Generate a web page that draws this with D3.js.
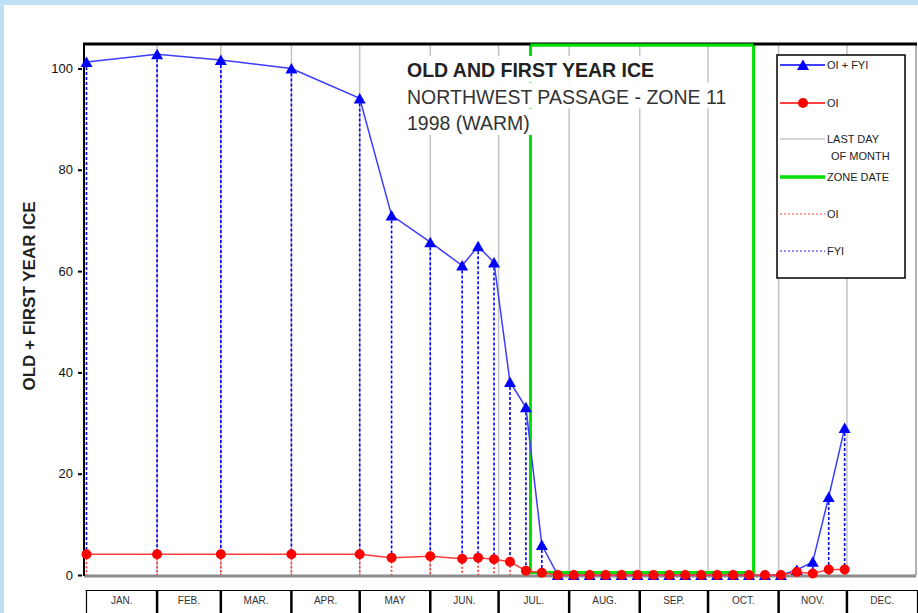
<!DOCTYPE html>
<html>
<head>
<meta charset="utf-8">
<script src="https://cdn.jsdelivr.net/npm/d3@7"></script>
<style>
body { margin: 0; background: #fff; }
text { font-family: "Liberation Sans", Arial, sans-serif; }
</style>
</head>
<body>
<svg id="chart" width="918" height="613"></svg>
<script>
// weekly / monthly ice observations, 1998
var sampleDates = ["1998-01-01", "1998-02-01", "1998-03-01", "1998-04-01", "1998-05-01", "1998-05-15",
    "1998-06-01", "1998-06-15", "1998-06-22", "1998-06-29", "1998-07-06", "1998-07-13", "1998-07-20",
    "1998-07-27", "1998-08-03", "1998-08-10", "1998-08-17", "1998-08-24", "1998-08-31", "1998-09-07",
    "1998-09-14", "1998-09-21", "1998-09-28", "1998-10-05", "1998-10-12", "1998-10-19", "1998-10-26",
    "1998-11-02", "1998-11-09", "1998-11-16", "1998-11-23", "1998-11-30"];
var totalIce = [101.3, 102.8, 101.7, 100.0, 94.1, 71.0, 65.7, 61.1, 64.9, 61.7, 38.1, 33.1, 5.9,
    0, 0, 0, 0, 0, 0, 0, 0, 0, 0, 0, 0, 0, 0, 0, 1.0, 2.6, 15.4, 29.0];
var oldIce = [4.1, 4.1, 4.1, 4.1, 4.1, 3.4, 3.7, 3.2, 3.4, 3.1, 2.6, 0.85, 0.45,
    0, 0, 0, 0, 0, 0, 0, 0, 0, 0, 0, 0, 0, 0, 0, 0.6, 0.3, 1.1, 1.1];
var monthLabels = ["JAN.", "FEB.", "MAR.", "APR.", "MAY", "JUN.", "JUL.", "AUG.", "SEP.", "OCT.", "NOV.", "DEC."];
var yTicks = [0, 20, 40, 60, 80, 100];
var zoneDates = ["1998-07-15", "1998-10-21"];
var titleLines = ["OLD AND FIRST YEAR ICE", "NORTHWEST PASSAGE - ZONE 11", "1998 (WARM)"];
var legendItems = ["OI + FYI", "OI", "LAST DAY", "ZONE DATE", "OI", "FYI"];

var parse = d3.timeParse("%Y-%m-%d");
var svg = d3.select("#chart");

var x = d3.scaleTime()
    .domain([new Date(1998, 0, 1), new Date(1999, 0, 1)])
    .range([86.5, 917.5]);
var y = d3.scaleLinear()
    .domain([0, 100])
    .range([575, 68.5]);

var top0 = 44, bottom0 = y(0);

var points = sampleDates.map(function (d, i) {
    return { date: parse(d), total: totalIce[i], oi: oldIce[i] };
});

// triangle centred on its box, so the base sits 5px under the value
var triPath = "M0,-5.5L6,5L-6,5Z";

// light blue page frame
svg.append("rect").attr("x", 0).attr("y", 0).attr("width", 918).attr("height", 5).attr("fill", "#bfe0f6");
svg.append("rect").attr("x", 0).attr("y", 0).attr("width", 4).attr("height", 613).attr("fill", "#bfe0f6");

// last day of month lines
var monthStarts = d3.timeMonth.range(new Date(1998, 0, 1), new Date(1999, 0, 1));
svg.append("g")
    .selectAll("line")
    .data(monthStarts.slice(1))
    .enter()
    .append("line")
    .attr("x1", function (d) { return x(d); })
    .attr("x2", function (d) { return x(d); })
    .attr("y1", top0)
    .attr("y2", bottom0)
    .attr("stroke", "#c4c4c4")
    .attr("stroke-width", 1.5);

// zone date box
var z0 = x(parse(zoneDates[0])), z1 = x(parse(zoneDates[1]));
svg.append("rect")
    .attr("x", z0)
    .attr("y", top0 + 1)
    .attr("width", z1 - z0)
    .attr("height", y(0.5) - top0 - 1)
    .attr("fill", "none")
    .attr("stroke", "#00e000")
    .attr("stroke-width", 3);

// title, each line on its own white box (hides grid and zone lines behind it)
var title = svg.append("g");
titleLines.forEach(function (t, i) {
    var txt = title.append("text")
        .attr("x", 407)
        .attr("y", 77 + i * 26.5)
        .attr("font-size", 19.5)
        .attr("font-weight", i == 0 ? "bold" : "normal")
        .attr("fill", i == 0 ? "#222" : "#333")
        .text(t);
    var b = txt.node().getBBox();
    title.insert("rect", "text")
        .attr("x", b.x - 3)
        .attr("y", b.y - 3)
        .attr("width", b.width + 6)
        .attr("height", b.height + 4)
        .attr("fill", "#fff");
});

// frame
svg.append("line").attr("x1", 84).attr("x2", 916).attr("y1", bottom0 + 1).attr("y2", bottom0 + 1)
    .attr("stroke", "#8c8c8c").attr("stroke-width", 3);
svg.append("line").attr("x1", 916).attr("x2", 916).attr("y1", top0).attr("y2", bottom0)
    .attr("stroke", "#666").attr("stroke-width", 1);
svg.append("line").attr("x1", 84).attr("x2", 84).attr("y1", top0).attr("y2", bottom0 + 1)
    .attr("stroke", "#000").attr("stroke-width", 2);
svg.append("line").attr("x1", 83).attr("x2", 917).attr("y1", top0).attr("y2", top0)
    .attr("stroke", "#000").attr("stroke-width", 3);
// green zone top edge sits over the frame
svg.append("line").attr("x1", z0).attr("x2", z1).attr("y1", top0 + 1).attr("y2", top0 + 1)
    .attr("stroke", "#00e000").attr("stroke-width", 3);

// dotted drops: FYI (blue) from total to OI, OI (red) from OI to zero
svg.append("g")
    .selectAll("line")
    .data(points.filter(function (d) { return d.oi > 0; }))
    .enter()
    .append("line")
    .attr("x1", function (d) { return x(d.date); })
    .attr("x2", function (d) { return x(d.date); })
    .attr("y1", function (d) { return y(d.oi); })
    .attr("y2", bottom0)
    .attr("stroke", "#ff3030")
    .attr("stroke-width", 1.6)
    .attr("stroke-dasharray", "2,2");
svg.append("g")
    .selectAll("line")
    .data(points.filter(function (d) { return d.total - d.oi > 0.5; }))
    .enter()
    .append("line")
    .attr("x1", function (d) { return x(d.date); })
    .attr("x2", function (d) { return x(d.date); })
    .attr("y1", function (d) { return y(d.total); })
    .attr("y2", function (d) { return y(d.oi); })
    .attr("stroke", "#0000ff")
    .attr("stroke-width", 1.6)
    .attr("stroke-dasharray", "3,2");

// OI + FYI series
svg.append("path")
    .datum(points)
    .attr("d", d3.line().x(function (d) { return x(d.date); }).y(function (d) { return y(d.total); }))
    .attr("fill", "none")
    .attr("stroke", "#3c3cff")
    .attr("stroke-width", 1.5);
svg.append("g")
    .selectAll("path")
    .data(points)
    .enter()
    .append("path")
    .attr("d", triPath)
    .attr("transform", function (d) { return "translate(" + x(d.date) + "," + y(d.total) + ")"; })
    .attr("fill", "#0000ff");

// OI series
svg.append("path")
    .datum(points)
    .attr("d", d3.line().x(function (d) { return x(d.date); }).y(function (d) { return y(d.oi); }))
    .attr("fill", "none")
    .attr("stroke", "#ff3c3c")
    .attr("stroke-width", 1.5);
svg.append("g")
    .selectAll("circle")
    .data(points)
    .enter()
    .append("circle")
    .attr("cx", function (d) { return x(d.date); })
    .attr("cy", function (d) { return y(d.oi); })
    .attr("r", 5)
    .attr("fill", "#ff0000");

// legend
var lg = svg.append("g");
lg.append("rect").attr("x", 777).attr("y", 55).attr("width", 128).attr("height", 223)
    .attr("fill", "#fff").attr("stroke", "#000").attr("stroke-width", 1.5);
var legendY = [65, 103, 139, 177, 214, 251];
var sample = [
    { color: "#0000ff", width: 1.5, dash: null },
    { color: "#ff0000", width: 1.5, dash: null },
    { color: "#c4c4c4", width: 1.5, dash: null },
    { color: "#00e000", width: 3.5, dash: null },
    { color: "#ff4040", width: 1.2, dash: "2,2" },
    { color: "#2020ff", width: 1.2, dash: "2,2" }
];
legendY.forEach(function (ly, i) {
    lg.append("line").attr("x1", 780).attr("x2", 825).attr("y1", ly).attr("y2", ly)
        .attr("stroke", sample[i].color).attr("stroke-width", sample[i].width)
        .attr("stroke-dasharray", sample[i].dash);
    lg.append("text").attr("x", 827).attr("y", ly).attr("dy", "0.35em")
        .attr("font-size", 11).attr("fill", "#222").text(legendItems[i]);
});
lg.append("path").attr("d", triPath).attr("transform", "translate(803," + legendY[0] + ")").attr("fill", "#0000ff");
lg.append("circle").attr("cx", 803).attr("cy", legendY[1]).attr("r", 5).attr("fill", "#ff0000");
lg.append("text").attr("x", 831).attr("y", 156).attr("dy", "0.35em")
    .attr("font-size", 11).attr("fill", "#222").text("OF MONTH");

// y axis
var yAxis = svg.append("g")
    .attr("transform", "translate(82,0)")
    .call(d3.axisLeft(y).tickValues(yTicks).tickSize(4).tickPadding(5));
yAxis.select(".domain").remove();
yAxis.selectAll(".tick line").attr("stroke", "#000").attr("stroke-width", 2);
yAxis.selectAll(".tick text").attr("font-size", 13).attr("fill", "#111")
    .style("font-family", "'Liberation Sans', Arial, sans-serif");

svg.append("text")
    .attr("transform", "translate(35,296) rotate(-90)")
    .attr("text-anchor", "middle")
    .attr("font-size", 17)
    .attr("font-weight", "bold")
    .attr("fill", "#222")
    .text("OLD + FIRST YEAR ICE");

// month boxes
var mb = svg.append("g");
mb.append("line").attr("x1", x(monthStarts[0]) - 1).attr("x2", x(new Date(1999, 0, 1)) + 1)
    .attr("y1", 590.5).attr("y2", 590.5).attr("stroke", "#000").attr("stroke-width", 1);
mb.selectAll("line.sep")
    .data(monthStarts.concat([new Date(1999, 0, 1)]))
    .enter()
    .append("line")
    .attr("class", "sep")
    .attr("x1", function (d) { return x(d); })
    .attr("x2", function (d) { return x(d); })
    .attr("y1", 590)
    .attr("y2", 613)
    .attr("stroke", "#000")
    .attr("stroke-width", function (d, i) { return i == 0 || i == 12 ? 1.2 : 2.5; });
mb.selectAll("text")
    .data(monthStarts)
    .enter()
    .append("text")
    .attr("x", function (d) { return (x(d) + x(d3.timeMonth.offset(d, 1))) / 2; })
    .attr("y", 604)
    .attr("text-anchor", "middle")
    .attr("font-size", 10)
    .attr("fill", "#333")
    .text(function (d, i) { return monthLabels[i]; });
</script>
</body>
</html>
